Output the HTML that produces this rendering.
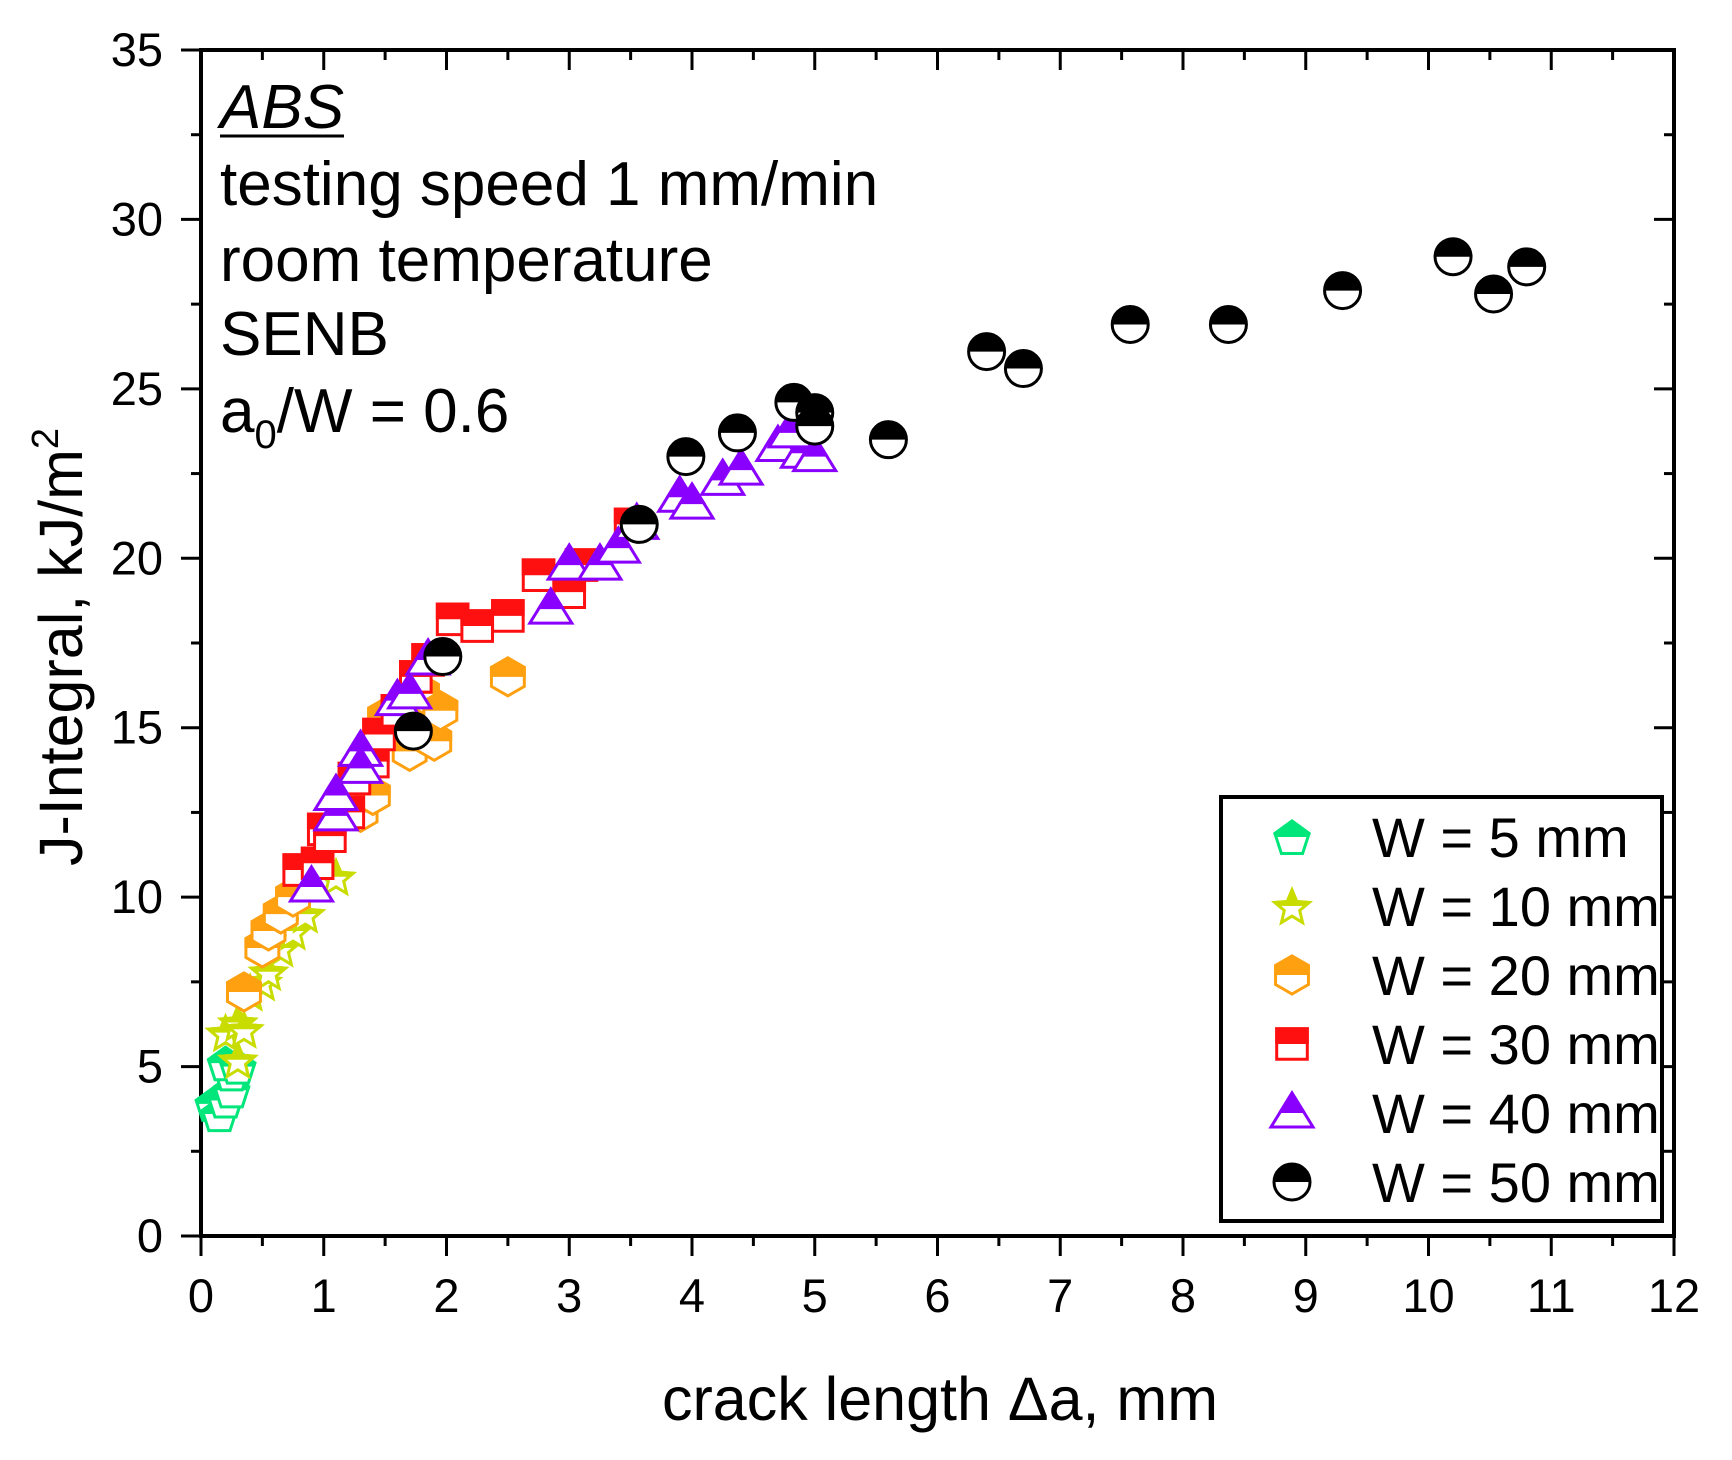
<!DOCTYPE html>
<html><head><meta charset="utf-8"><style>
html,body{margin:0;padding:0;background:#fff;}
svg{display:block;font-family:"Liberation Sans",Arial,sans-serif;}
</style></head><body>
<svg id="chart" width="1732" height="1460" viewBox="0 0 1732 1460"></svg>
<script>
const xTicks=[0,1,2,3,4,5,6,7,8,9,10,11,12];
const yTicks=[0,5,10,15,20,25,30,35];
const seriesNames=["W = 5 mm","W = 10 mm","W = 20 mm","W = 30 mm","W = 40 mm","W = 50 mm"];
const w5x=[0.1,0.15,0.2,0.25,0.25,0.2,0.3];
const w5y=[3.9,3.6,4.0,4.3,4.8,5.1,5.0];
const w10x=[0.3,0.2,0.3,0.35,0.4,0.5,0.55,0.65,0.75,0.85,1.1];
const w10y=[5.2,6.0,6.3,6.1,7.2,7.5,7.8,8.5,9.0,9.5,10.6];
const w20x=[0.35,0.5,0.55,0.65,0.75,1.3,1.4,1.5,1.7,1.9,1.8,1.95,2.5];
const w20y=[7.2,8.5,9.0,9.5,10.0,12.5,13.0,15.3,14.3,14.6,16.0,15.5,16.5];
const w30x=[0.8,0.95,1.0,1.05,1.2,1.25,1.4,1.45,1.6,1.75,1.85,2.05,2.25,2.5,2.75,3.0,3.1,3.5];
const w30y=[10.8,11.0,12.0,11.8,12.5,13.5,14.0,14.8,15.5,16.5,17.0,18.2,18.0,18.3,19.5,19.0,19.8,21.0];
const w40x=[0.9,1.1,1.1,1.3,1.3,1.6,1.7,1.85,2.85,3.0,3.25,3.4,3.55,3.9,4.0,4.25,4.4,4.7,4.9,5.0,4.8];
const w40y=[10.3,12.4,13.0,14.3,13.8,15.8,16.0,17.0,18.5,19.8,19.8,20.3,21.0,21.8,21.6,22.3,22.6,23.3,23.1,23.0,23.7];
const w50x=[1.73,1.97,3.57,3.95,4.37,4.83,5.0,5.0,5.6,6.4,6.7,7.57,8.37,9.3,10.2,10.53,10.8];
const w50y=[14.9,17.1,21.0,23.0,23.7,24.6,24.3,23.9,23.5,26.1,25.6,26.9,26.9,27.9,28.9,27.8,28.6];

const NS="http://www.w3.org/2000/svg";
const svg=document.getElementById('chart');
const L=201,R=1674,T=50,B=1236;
const X=v=>L+(v-0)/12*(R-L);
const Y=v=>B-(v-0)/35*(B-T);
function mk(tag,attrs,parent){const e=document.createElementNS(NS,tag);for(const k in attrs)e.setAttribute(k,attrs[k]);(parent||svg).appendChild(e);return e;}

const tickG=mk('g',{stroke:'#000','stroke-width':3});


for(let i=0;i<=24;i++){const v=i*0.5,x=X(v),len=i%2?10:20;
 mk('line',{x1:x,y1:B,x2:x,y2:B+len},tickG);mk('line',{x1:x,y1:T,x2:x,y2:T+len},tickG);}
for(let i=0;i<=14;i++){const v=i*2.5,y=Y(v),len=i%2?10:20;
 mk('line',{x1:L,y1:y,x2:L-len,y2:y},tickG);mk('line',{x1:R,y1:y,x2:R-len,y2:y},tickG);}
const frame=mk('rect',{x:L,y:T,width:R-L,height:B-T,fill:'none',stroke:'#000','stroke-width':4});


xTicks.forEach(v=>{const t=mk('text',{x:X(v),y:B+76,'font-size':47,'text-anchor':'middle'});t.textContent=v;
 
 });
yTicks.forEach(v=>{const t=mk('text',{x:L-38,y:Y(v)+16,'font-size':47,'text-anchor':'end'});t.textContent=v;
 
 });
const xt=mk('text',{x:940,y:1420,'font-size':61,'text-anchor':'middle'});xt.textContent='crack length \u0394a, mm';


const yt=mk('text',{x:0,y:0,'font-size':61,'text-anchor':'middle',transform:`translate(82,647) rotate(-90)`});
yt.innerHTML='J-Integral, kJ/m<tspan dy="-24" font-size="38">2</tspan>';



const ann=[['ABS',128],['testing speed 1 mm/min',205],['room temperature',281],['SENB',355]];
ann.forEach((a,i)=>{const t=mk('text',{x:220,y:a[1],'font-size':62,'font-style':i==0?'italic':'normal'});t.textContent=a[0];
 
 });
mk('line',{x1:220,y1:136,x2:344,y2:136,stroke:'#000','stroke-width':3});
const a0=mk('text',{x:220,y:432,'font-size':62});a0.innerHTML='a<tspan dy="16" font-size="40">0</tspan><tspan dy="-16">/W = 0.6</tspan>';



let clipId=0;
function shapePts(kind,cx,cy,s){
 const pts=[];
 if(kind=='pent'){for(let i=0;i<5;i++){const a=-Math.PI/2+i*2*Math.PI/5;pts.push([cx+s*Math.cos(a),cy+s*Math.sin(a)+2]);}}
 else if(kind=='star'){for(let i=0;i<10;i++){const a=-Math.PI/2+i*Math.PI/5,r=i%2?s*0.45:s;pts.push([cx+r*Math.cos(a),cy+r*Math.sin(a)+2]);}}
 else if(kind=='hex'){for(let i=0;i<6;i++){const a=-Math.PI/2+i*Math.PI/3;pts.push([cx+s*Math.cos(a),cy+s*Math.sin(a)]);}}
 else if(kind=='sq'){const h=s*0.85;pts.push([cx-h,cy-h],[cx+h,cy-h],[cx+h,cy+h],[cx-h,cy+h]);}
 else if(kind=='tri'){pts.push([cx,cy-s],[cx+s*1.05,cy+s*0.7],[cx-s*1.05,cy+s*0.7]);}
 return pts.map(p=>p.join(',')).join(' ');
}
function marker(g,kind,color,cx,cy,s){
 const id='c'+(clipId++);
 const cp=mk('clipPath',{id},g);mk('rect',{x:cx-s-5,y:cy-s-5,width:2*s+10,height:s+5},cp);
 let shape;
 if(kind=='circ'){
  mk('circle',{cx,cy,r:s,fill:'#fff',stroke:color,'stroke-width':3},g);
  shape=mk('circle',{cx,cy,r:s,fill:color,'clip-path':`url(#${id})`},g);
 } else {
  const p=shapePts(kind,cx,cy,s);
  mk('polygon',{points:p,fill:'#fff',stroke:color,'stroke-width':3},g);
  shape=mk('polygon',{points:p,fill:color,stroke:color,'stroke-width':3,'clip-path':`url(#${id})`},g);
 }
 return shape;
}
const series=[
 {xs:w5x,ys:w5y,kind:'pent',color:'#00e67a',size:18},
 {xs:w10x,ys:w10y,kind:'star',color:'#c8dc00',size:18},
 {xs:w20x,ys:w20y,kind:'hex',color:'#ffa010',size:19},
 {xs:w30x,ys:w30y,kind:'sq',color:'#ff1010',size:18},
 {xs:w40x,ys:w40y,kind:'tri',color:'#8a00ff',size:20},
 {xs:w50x,ys:w50y,kind:'circ',color:'#000',size:18}];
series.forEach((s,si)=>{
 const g=mk('g',{});
 
 
 s.xs.forEach((xv,i)=>{const m=marker(g,s.kind,s.color,X(xv),Y(s.ys[i]),s.size);
  
  });
});

const lg=mk('g',{});


mk('rect',{x:1221,y:797,width:441,height:424,fill:'#fff',stroke:'#000','stroke-width':4},lg);
series.forEach((s,i)=>{const cy=837+i*69;
 const m=marker(lg,s.kind,s.color,1292,cy,s.size);
 
 
 const t=mk('text',{x:1372,y:cy+20,'font-size':56},lg);t.textContent=seriesNames[i];
 
 });
</script>
</body></html>
